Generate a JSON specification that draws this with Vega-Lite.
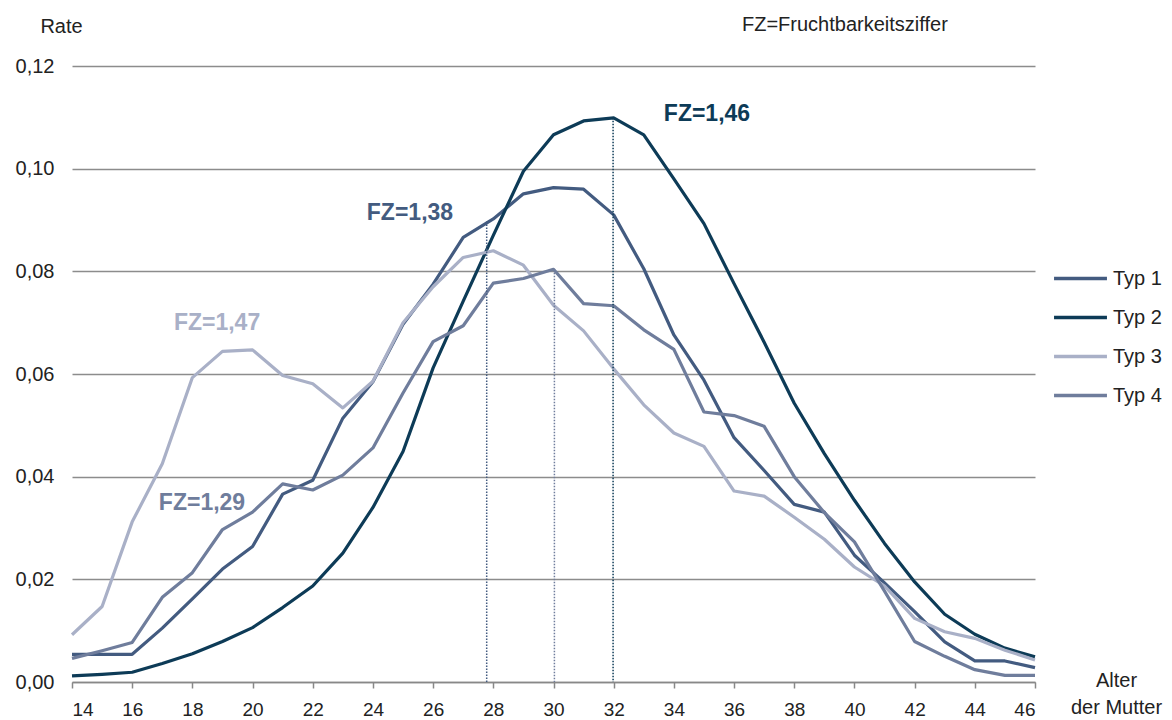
{
  "$schema": "https://vega.github.io/schema/vega-lite/v6.json",
  "autosize": "none",
  "width": 963,
  "height": 616,
  "padding": {"left": 72, "top": 66, "right": 137, "bottom": 38},
  "background": "white",
  "config": {
    "font": "Liberation Sans",
    "view": {"stroke": null}
  },
  "title": {
    "text": "FZ=Fruchtbarkeitsziffer",
    "frame": "group",
    "anchor": "start",
    "dx": 670,
    "offset": -35,
    "baseline": "alphabetic",
    "fontSize": 20,
    "fontWeight": "normal",
    "color": "#222222"
  },
  "datasets": {
    "rates": [
      {"age":14,"typ":"Typ 1","rate":0.0054},{"age":15,"typ":"Typ 1","rate":0.0054},{"age":16,"typ":"Typ 1","rate":0.0054},{"age":17,"typ":"Typ 1","rate":0.0105},{"age":18,"typ":"Typ 1","rate":0.0162},{"age":19,"typ":"Typ 1","rate":0.022},{"age":20,"typ":"Typ 1","rate":0.0264},{"age":21,"typ":"Typ 1","rate":0.0366},{"age":22,"typ":"Typ 1","rate":0.0393},{"age":23,"typ":"Typ 1","rate":0.0514},{"age":24,"typ":"Typ 1","rate":0.0585},{"age":25,"typ":"Typ 1","rate":0.0697},{"age":26,"typ":"Typ 1","rate":0.0775},{"age":27,"typ":"Typ 1","rate":0.0866},{"age":28,"typ":"Typ 1","rate":0.0902},{"age":29,"typ":"Typ 1","rate":0.0951},{"age":30,"typ":"Typ 1","rate":0.0963},{"age":31,"typ":"Typ 1","rate":0.096},{"age":32,"typ":"Typ 1","rate":0.091},{"age":33,"typ":"Typ 1","rate":0.0805},{"age":34,"typ":"Typ 1","rate":0.0676},{"age":35,"typ":"Typ 1","rate":0.0588},{"age":36,"typ":"Typ 1","rate":0.0476},{"age":37,"typ":"Typ 1","rate":0.0412},{"age":38,"typ":"Typ 1","rate":0.0346},{"age":39,"typ":"Typ 1","rate":0.0331},{"age":40,"typ":"Typ 1","rate":0.0247},{"age":41,"typ":"Typ 1","rate":0.0193},{"age":42,"typ":"Typ 1","rate":0.0137},{"age":43,"typ":"Typ 1","rate":0.0078},{"age":44,"typ":"Typ 1","rate":0.0041},{"age":45,"typ":"Typ 1","rate":0.0041},{"age":46,"typ":"Typ 1","rate":0.0028},
      {"age":14,"typ":"Typ 2","rate":0.0012},{"age":15,"typ":"Typ 2","rate":0.0015},{"age":16,"typ":"Typ 2","rate":0.0019},{"age":17,"typ":"Typ 2","rate":0.0036},{"age":18,"typ":"Typ 2","rate":0.0055},{"age":19,"typ":"Typ 2","rate":0.0079},{"age":20,"typ":"Typ 2","rate":0.0106},{"age":21,"typ":"Typ 2","rate":0.0145},{"age":22,"typ":"Typ 2","rate":0.0187},{"age":23,"typ":"Typ 2","rate":0.0251},{"age":24,"typ":"Typ 2","rate":0.034},{"age":25,"typ":"Typ 2","rate":0.0449},{"age":26,"typ":"Typ 2","rate":0.0612},{"age":27,"typ":"Typ 2","rate":0.0742},{"age":28,"typ":"Typ 2","rate":0.087},{"age":29,"typ":"Typ 2","rate":0.0995},{"age":30,"typ":"Typ 2","rate":0.1066},{"age":31,"typ":"Typ 2","rate":0.1093},{"age":32,"typ":"Typ 2","rate":0.1099},{"age":33,"typ":"Typ 2","rate":0.1066},{"age":34,"typ":"Typ 2","rate":0.098},{"age":35,"typ":"Typ 2","rate":0.0893},{"age":36,"typ":"Typ 2","rate":0.0776},{"age":37,"typ":"Typ 2","rate":0.0662},{"age":38,"typ":"Typ 2","rate":0.0543},{"age":39,"typ":"Typ 2","rate":0.0445},{"age":40,"typ":"Typ 2","rate":0.0354},{"age":41,"typ":"Typ 2","rate":0.027},{"age":42,"typ":"Typ 2","rate":0.0195},{"age":43,"typ":"Typ 2","rate":0.0132},{"age":44,"typ":"Typ 2","rate":0.0093},{"age":45,"typ":"Typ 2","rate":0.0066},{"age":46,"typ":"Typ 2","rate":0.0049},
      {"age":14,"typ":"Typ 3","rate":0.0092},{"age":15,"typ":"Typ 3","rate":0.0147},{"age":16,"typ":"Typ 3","rate":0.0312},{"age":17,"typ":"Typ 3","rate":0.0425},{"age":18,"typ":"Typ 3","rate":0.0593},{"age":19,"typ":"Typ 3","rate":0.0644},{"age":20,"typ":"Typ 3","rate":0.0647},{"age":21,"typ":"Typ 3","rate":0.0597},{"age":22,"typ":"Typ 3","rate":0.0581},{"age":23,"typ":"Typ 3","rate":0.0534},{"age":24,"typ":"Typ 3","rate":0.0586},{"age":25,"typ":"Typ 3","rate":0.07},{"age":26,"typ":"Typ 3","rate":0.077},{"age":27,"typ":"Typ 3","rate":0.0827},{"age":28,"typ":"Typ 3","rate":0.084},{"age":29,"typ":"Typ 3","rate":0.0812},{"age":30,"typ":"Typ 3","rate":0.0734},{"age":31,"typ":"Typ 3","rate":0.0684},{"age":32,"typ":"Typ 3","rate":0.061},{"age":33,"typ":"Typ 3","rate":0.054},{"age":34,"typ":"Typ 3","rate":0.0485},{"age":35,"typ":"Typ 3","rate":0.0459},{"age":36,"typ":"Typ 3","rate":0.0372},{"age":37,"typ":"Typ 3","rate":0.0362},{"age":38,"typ":"Typ 3","rate":0.0321},{"age":39,"typ":"Typ 3","rate":0.0278},{"age":40,"typ":"Typ 3","rate":0.0224},{"age":41,"typ":"Typ 3","rate":0.0187},{"age":42,"typ":"Typ 3","rate":0.0124},{"age":43,"typ":"Typ 3","rate":0.0098},{"age":44,"typ":"Typ 3","rate":0.0085},{"age":45,"typ":"Typ 3","rate":0.0062},{"age":46,"typ":"Typ 3","rate":0.0043},
      {"age":14,"typ":"Typ 4","rate":0.0046},{"age":15,"typ":"Typ 4","rate":0.0061},{"age":16,"typ":"Typ 4","rate":0.0077},{"age":17,"typ":"Typ 4","rate":0.0165},{"age":18,"typ":"Typ 4","rate":0.0213},{"age":19,"typ":"Typ 4","rate":0.0297},{"age":20,"typ":"Typ 4","rate":0.0331},{"age":21,"typ":"Typ 4","rate":0.0386},{"age":22,"typ":"Typ 4","rate":0.0374},{"age":23,"typ":"Typ 4","rate":0.0403},{"age":24,"typ":"Typ 4","rate":0.0456},{"age":25,"typ":"Typ 4","rate":0.0563},{"age":26,"typ":"Typ 4","rate":0.0663},{"age":27,"typ":"Typ 4","rate":0.0694},{"age":28,"typ":"Typ 4","rate":0.0777},{"age":29,"typ":"Typ 4","rate":0.0786},{"age":30,"typ":"Typ 4","rate":0.0804},{"age":31,"typ":"Typ 4","rate":0.0737},{"age":32,"typ":"Typ 4","rate":0.0733},{"age":33,"typ":"Typ 4","rate":0.0686},{"age":34,"typ":"Typ 4","rate":0.0648},{"age":35,"typ":"Typ 4","rate":0.0526},{"age":36,"typ":"Typ 4","rate":0.0519},{"age":37,"typ":"Typ 4","rate":0.0498},{"age":38,"typ":"Typ 4","rate":0.04},{"age":39,"typ":"Typ 4","rate":0.033},{"age":40,"typ":"Typ 4","rate":0.0273},{"age":41,"typ":"Typ 4","rate":0.0177},{"age":42,"typ":"Typ 4","rate":0.0079},{"age":43,"typ":"Typ 4","rate":0.005},{"age":44,"typ":"Typ 4","rate":0.0024},{"age":45,"typ":"Typ 4","rate":0.0013},{"age":46,"typ":"Typ 4","rate":0.0013}
    ],
    "rules": [
      {"age": 27.78, "top": 0.0897, "typ": "Typ 1"},
      {"age": 30.03, "top": 0.0803, "typ": "Typ 4"},
      {"age": 31.98, "top": 0.1099, "typ": "Typ 2"}
    ],
    "labels": [
      {"age": 35.1, "rate": 0.1107, "label": "FZ=1,46", "typ": "Typ 2"},
      {"age": 25.23, "rate": 0.0914, "label": "FZ=1,38", "typ": "Typ 1"},
      {"age": 18.82, "rate": 0.0699, "label": "FZ=1,47", "typ": "Typ 3"},
      {"age": 18.32, "rate": 0.0349, "label": "FZ=1,29", "typ": "Typ 4"}
    ]
  },
  "layer": [
    {
      "data": {"name": "rates"},
      "mark": {"type": "line", "strokeWidth": 3.2, "strokeJoin": "round"},
      "encoding": {
        "x": {
          "field": "age", "type": "quantitative",
          "scale": {"domain": [14, 46], "nice": false, "zero": false},
          "axis": {
            "values": [14,15,16,17,18,19,20,21,22,23,24,25,26,27,28,29,30,31,32,33,34,35,36,37,38,39,40,41,42,43,44,45,46],
            "labelExpr": "datum.value % 2 == 0 ? datum.value : ''",
            "grid": false,
            "domainColor": "#888888",
            "domainWidth": 1.5,
            "tickColor": "#888888",
            "tickWidth": 1.5,
            "tickSize": 6,
            "labelFontSize": 19,
            "labelColor": "#222222",
            "labelPadding": 12,
            "title": ["Alter", "der Mutter"],
            "titleFontSize": 20,
            "titleFontWeight": "normal",
            "titleColor": "#222222",
            "titleX": 1044,
            "titleY": -12,
            "titleAlign": "center",
            "titleBaseline": "top",
            "titleLineHeight": 27
          }
        },
        "y": {
          "field": "rate", "type": "quantitative",
          "scale": {"domain": [0, 0.12], "nice": false},
          "axis": {
            "values": [0, 0.02, 0.04, 0.06, 0.08, 0.1, 0.12],
            "labelExpr": "replace(format(datum.value, '.2f'), '.', ',')",
            "domain": false,
            "ticks": false,
            "grid": true,
            "gridColor": "#8c8c8c",
            "gridWidth": 1.5,
            "labelFontSize": 20,
            "labelColor": "#222222",
            "labelPadding": 18,
            "title": "Rate",
            "titleAngle": 0,
            "titleFontSize": 20,
            "titleFontWeight": "normal",
            "titleColor": "#222222",
            "titleX": -11,
            "titleY": -40,
            "titleAlign": "center",
            "titleBaseline": "middle"
          }
        },
        "color": {
          "field": "typ", "type": "nominal",
          "scale": {
            "domain": ["Typ 1", "Typ 2", "Typ 3", "Typ 4"],
            "range": ["#435b80", "#0d3b57", "#a9b0c7", "#6f7d9c"]
          },
          "legend": {
            "title": null,
            "orient": "none",
            "legendX": 980,
            "legendY": 184,
            "symbolType": "stroke",
            "symbolSize": 2800,
            "symbolStrokeWidth": 3.5,
            "labelFontSize": 20,
            "labelColor": "#222222",
            "rowPadding": -10,
            "labelOffset": 4
          }
        }
      }
    },
    {
      "data": {"name": "rules"},
      "mark": {"type": "rule", "strokeWidth": 1.5, "strokeDash": [1.5, 1.5]},
      "encoding": {
        "x": {"field": "age", "type": "quantitative"},
        "y": {"field": "top", "type": "quantitative"},
        "y2": {"datum": 0},
        "color": {"field": "typ", "type": "nominal", "legend": null}
      }
    },
    {
      "data": {"name": "labels"},
      "mark": {"type": "text", "fontSize": 23, "fontWeight": "bold", "align": "center", "baseline": "middle"},
      "encoding": {
        "x": {"field": "age", "type": "quantitative"},
        "y": {"field": "rate", "type": "quantitative"},
        "text": {"field": "label", "type": "nominal"},
        "color": {"field": "typ", "type": "nominal", "legend": null}
      }
    }
  ]
}
